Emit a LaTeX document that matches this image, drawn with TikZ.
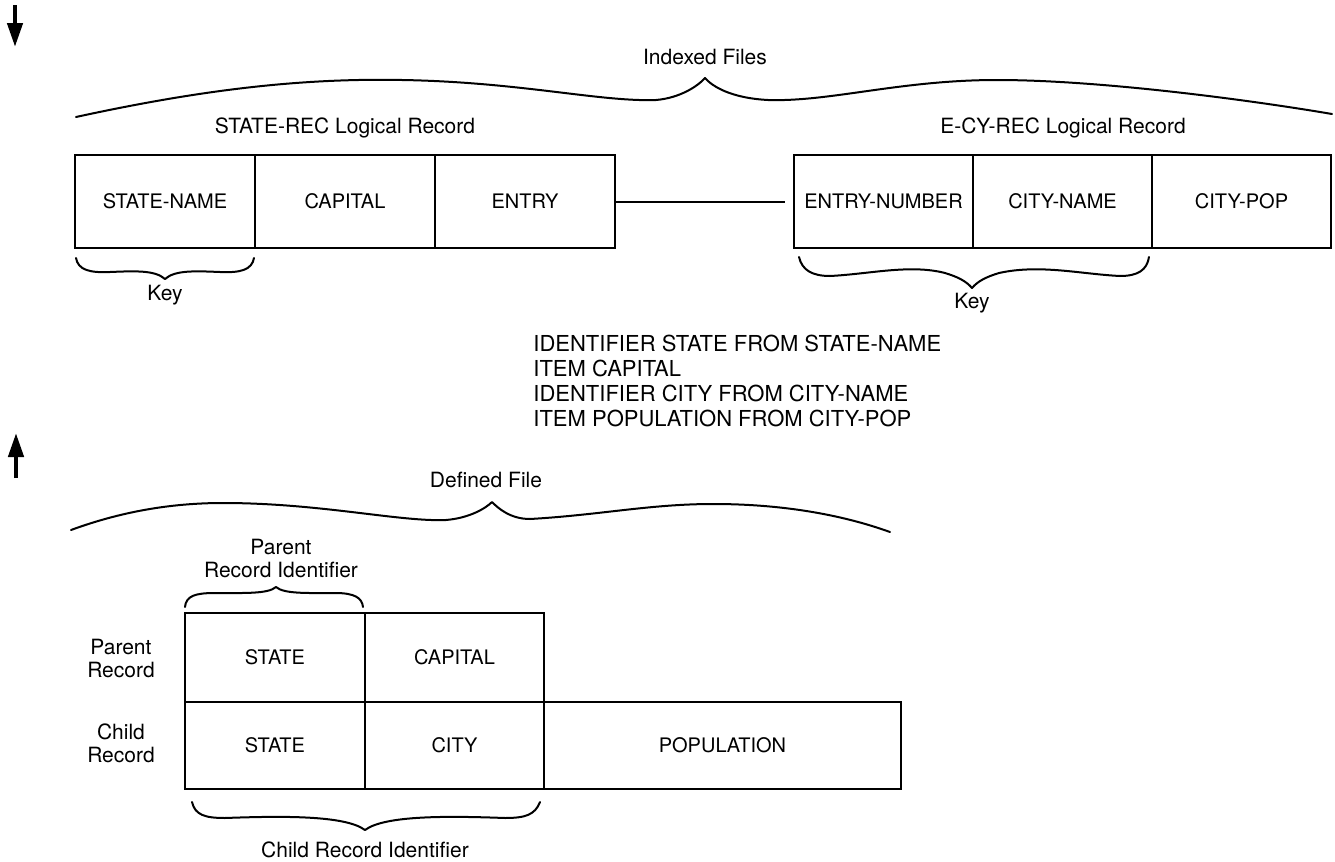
\documentclass[tikz,border=0pt]{standalone}
\usepackage{fontspec}
\setmainfont{TeX Gyre Heros}
\usetikzlibrary{positioning,arrows.meta}

\begin{document}
\begin{tikzpicture}[x=0.5pt, y=-0.5pt,
    cell/.style={draw=myink, line width=1pt, inner sep=0pt, outer sep=0pt, font=\fontsize{10}{12}\selectfont},
    rec/.style={cell, minimum width=90pt, minimum height=46.5pt},
    lbl/.style={myink, font=\fontsize{10.5}{11.5}\selectfont, align=center, inner sep=0pt},
    brace/.style={myink, line width=1pt, line cap=round, line join=round},
    flow/.style={myink, line width=2.2pt, -{Triangle[length=12pt, width=7.5pt]}}]
    \definecolor{myink}{RGB}{0,0,0}

    \useasboundingbox (0,0) rectangle (1335,862);

    \coordinate (downtop) at (15,5);
    \coordinate (downend) at (15,47);
    \draw[flow] (downtop) -- (downend);
    \coordinate (upbot) at (16,478);
    \coordinate (uptop) at (16,433);
    \draw[flow] (upbot) -- (uptop);

    \node[lbl] (indexed) at (705,57) {Indexed Files};
    \draw[brace] (76,117) .. controls (200,90) and (300,78) .. (402,80)
        .. controls (520,82) and (600,102) .. (656,100)
        .. controls (680,98) and (698,86) .. (705,78)
        .. controls (712,86) and (730,98) .. (768,100)
        .. controls (830,102) and (900,80) .. (997,80)
        .. controls (1100,80) and (1250,100) .. (1332,114);

    \node[lbl] (staterec) at (345,128) {STATE-REC Logical Record};
    \node[rec] (statename) at (165,201.5) {STATE-NAME};
    \node[rec, right=0pt of statename] (capital) {CAPITAL};
    \node[rec, right=0pt of capital] (entry) {ENTRY};

    \node[lbl] (ecyrec) at (1063,128) {E-CY-REC Logical Record};
    \node[rec, minimum width=89.5pt] (entrynum) at (883.5,201.5) {ENTRY-NUMBER};
    \node[rec, minimum width=89.5pt, right=0pt of entrynum] (cityname) {CITY-NAME};
    \node[rec, minimum width=89.5pt, right=0pt of cityname] (citypop) {CITY-POP};

    \draw[myink, line width=1pt, shorten >=4.5pt] (entry) -- (entrynum);

    \draw[brace] (76,258) .. controls (78,270) and (90,273) .. (110,272)
        .. controls (135,271) and (155,270) .. (165,279)
        .. controls (175,270) and (195,271) .. (220,272)
        .. controls (240,273) and (252,270) .. (254,258);
    \node[lbl] (key1) at (165,295) {Key};
    \draw[brace] (799,257) .. controls (802,270) and (812,276) .. (830,276)
        .. controls (870,274) and (910,264) .. (945,273)
        .. controls (958,277) and (966,281) .. (972,288)
        .. controls (978,281) and (986,277) .. (999,273)
        .. controls (1040,264) and (1080,274) .. (1120,276)
        .. controls (1138,276) and (1147,270) .. (1149,257);
    \node[lbl] (key2) at (972,303) {Key};

    \node[myink, anchor=north west, align=left, inner sep=0pt, font=\fontsize{11}{12.5}\selectfont] (idents) at (533,335)
        {IDENTIFIER STATE FROM STATE-NAME\\ITEM CAPITAL\\IDENTIFIER CITY FROM CITY-NAME\\ITEM POPULATION FROM CITY-POP};

    \node[lbl] (defined) at (486,480) {Defined File};
    \draw[brace] (71,530) .. controls (120,512) and (170,503) .. (223,503)
        .. controls (320,503) and (400,522) .. (446,520)
        .. controls (470,518) and (486,508) .. (492,502)
        .. controls (498,508) and (510,519) .. (530,519)
        .. controls (600,515) and (650,504) .. (713,504)
        .. controls (780,504) and (840,514) .. (890,532);

    \node[lbl] (parentid) at (281,558.5) {Parent\\Record Identifier};
    \draw[brace] (185,607) .. controls (186,596) and (195,593) .. (215,593)
        .. controls (245,593) and (268,594) .. (276,587)
        .. controls (284,594) and (307,593) .. (335,593)
        .. controls (355,593) and (362,598) .. (363,607);

    \node[cell, minimum width=90pt, minimum height=44.5pt] (pstate) at (275,657.5) {STATE};
    \node[cell, minimum width=89.5pt, minimum height=44.5pt, right=0pt of pstate] (pcapital) {CAPITAL};
    \node[cell, minimum width=90pt, minimum height=43.5pt, below=0pt of pstate] (cstate) {STATE};
    \node[cell, minimum width=89.5pt, minimum height=43.5pt, right=0pt of cstate] (ccity) {CITY};
    \node[cell, minimum width=178.5pt, minimum height=43.5pt, right=0pt of ccity] (cpop) {POPULATION};

    \node[lbl] (parentrec) at (121,658.5) {Parent\\Record};
    \node[lbl] (childrec) at (121,743.5) {Child\\Record};

    \draw[brace] (192,802) .. controls (195,815) and (205,818) .. (225,818)
        .. controls (280,816) and (345,815) .. (365,830)
        .. controls (385,815) and (450,816) .. (505,818)
        .. controls (525,818) and (535,815) .. (540,802);
    \node[lbl] (childid) at (365,850) {Child Record Identifier};
\end{tikzpicture}
\end{document}
